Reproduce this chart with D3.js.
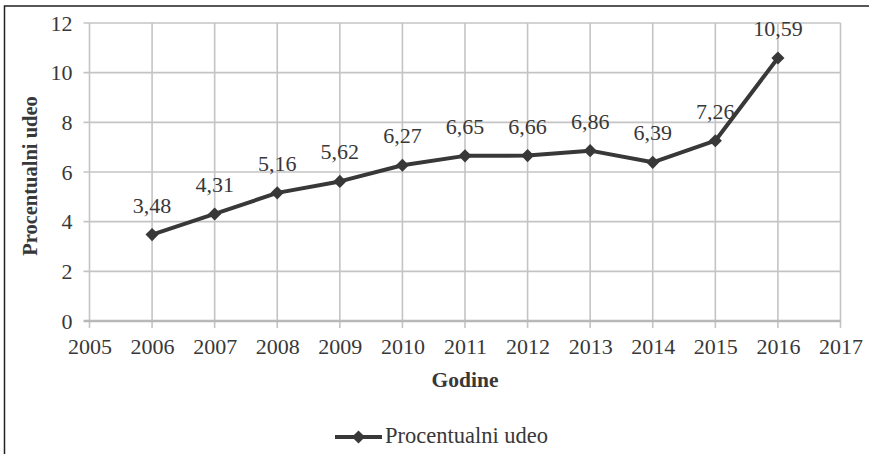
<!DOCTYPE html>
<html><head><meta charset="utf-8">
<script src="https://cdn.jsdelivr.net/npm/d3@7"></script>
<style>html,body{margin:0;padding:0;background:#fff;}svg{display:block;}</style>
</head><body>
<svg id="chart" width="869" height="454"></svg>
<script>
const years = [2006, 2007, 2008, 2009, 2010, 2011, 2012, 2013, 2014, 2015, 2016];
const values = [3.48, 4.31, 5.16, 5.62, 6.27, 6.65, 6.66, 6.86, 6.39, 7.26, 10.59];
const valueLabels = ["3,48", "4,31", "5,16", "5,62", "6,27", "6,65", "6,66", "6,86", "6,39", "7,26", "10,59"];
const xTicks = [2005, 2006, 2007, 2008, 2009, 2010, 2011, 2012, 2013, 2014, 2015, 2016, 2017];
const yTicks = [0, 2, 4, 6, 8, 10, 12];
const seriesName = "Procentualni udeo";
const xTitle = "Godine";
const yTitle = "Procentualni udeo";

const svg = d3.select("#chart");
const font = "Liberation Serif, Times New Roman, serif";
const textColor = "#383838";
const lineColor = "#383838";

// frame
svg.append("rect").attr("x", 4.5).attr("y", 6).attr("width", 900).attr("height", 500)
  .attr("fill", "#fff").attr("stroke", "#222").attr("stroke-width", 1.5);

const x = d3.scaleLinear().domain([2005, 2017]).range([89.5, 840.5]);
const y = d3.scaleLinear().domain([0, 12]).range([321, 23]);

// grid
const g = svg.append("g");
g.selectAll("line.h").data(yTicks.filter(d => d > 0)).join("line")
  .attr("x1", x(2005) - 6).attr("x2", x(2017))
  .attr("y1", d => y(d)).attr("y2", d => y(d))
  .attr("stroke", "#c4c4c4").attr("stroke-width", 1.6);
g.selectAll("line.v").data(xTicks).join("line")
  .attr("x1", d => x(d)).attr("x2", d => x(d))
  .attr("y1", y(12)).attr("y2", y(0) + 7)
  .attr("stroke", "#c4c4c4").attr("stroke-width", 1.6);
// x axis line
g.append("line").attr("x1", x(2005) - 6).attr("x2", x(2017))
  .attr("y1", y(0)).attr("y2", y(0))
  .attr("stroke", "#b8b8b8").attr("stroke-width", 2.4);

// y tick labels via axis
const yAxis = svg.append("g").attr("transform", `translate(${x(2005)},0)`)
  .call(d3.axisLeft(y).tickValues(yTicks).tickSize(0).tickPadding(17).tickFormat(d3.format("d")));
yAxis.select(".domain").remove();
yAxis.selectAll("text").attr("font-family", font).attr("font-size", 22).attr("fill", textColor);

const xAxis = svg.append("g").attr("transform", `translate(0,${y(0)})`)
  .call(d3.axisBottom(x).tickValues(xTicks).tickSize(0).tickPadding(17).tickFormat(d3.format("d")));
xAxis.select(".domain").remove();
xAxis.selectAll("text").attr("font-family", font).attr("font-size", 22).attr("fill", textColor);

// titles
svg.append("text").attr("x", x(2011)).attr("y", 387).attr("text-anchor", "middle")
  .attr("font-family", font).attr("font-weight", "bold").attr("font-size", 21.5).attr("fill", textColor)
  .text(xTitle);
svg.append("text").attr("transform", `translate(37,${(y(0) + y(12)) / 2 + 4}) rotate(-90)`)
  .attr("text-anchor", "middle")
  .attr("font-family", font).attr("font-weight", "bold").attr("font-size", 20.5).attr("fill", textColor)
  .text(yTitle);

// series
const data = years.map((yr, i) => ({ yr, v: values[i], label: valueLabels[i] }));
svg.append("path").datum(data)
  .attr("d", d3.line().x(d => x(d.yr)).y(d => y(d.v)))
  .attr("fill", "none").attr("stroke", lineColor).attr("stroke-width", 4).attr("stroke-linejoin", "round");

const diamond = d3.symbol().type(d3.symbolDiamond2).size(110);
svg.selectAll("path.m").data(data).join("path")
  .attr("transform", d => `translate(${x(d.yr)},${y(d.v)})`)
  .attr("d", diamond).attr("fill", lineColor);

svg.selectAll("text.lbl").data(data).join("text")
  .attr("x", d => x(d.yr)).attr("y", d => y(d.v) - 22)
  .attr("text-anchor", "middle").attr("font-family", font).attr("font-size", 22).attr("fill", textColor)
  .text(d => d.label);

// legend
const lg = svg.append("g");
lg.append("line").attr("x1", 335).attr("x2", 382).attr("y1", 437).attr("y2", 437)
  .attr("stroke", lineColor).attr("stroke-width", 4);
lg.append("path").attr("transform", "translate(358.5,437)").attr("d", diamond).attr("fill", lineColor);
lg.append("text").attr("x", 385).attr("y", 443).attr("font-family", font).attr("font-size", 22.5)
  .attr("fill", textColor).text(seriesName);
</script>
</body></html>
